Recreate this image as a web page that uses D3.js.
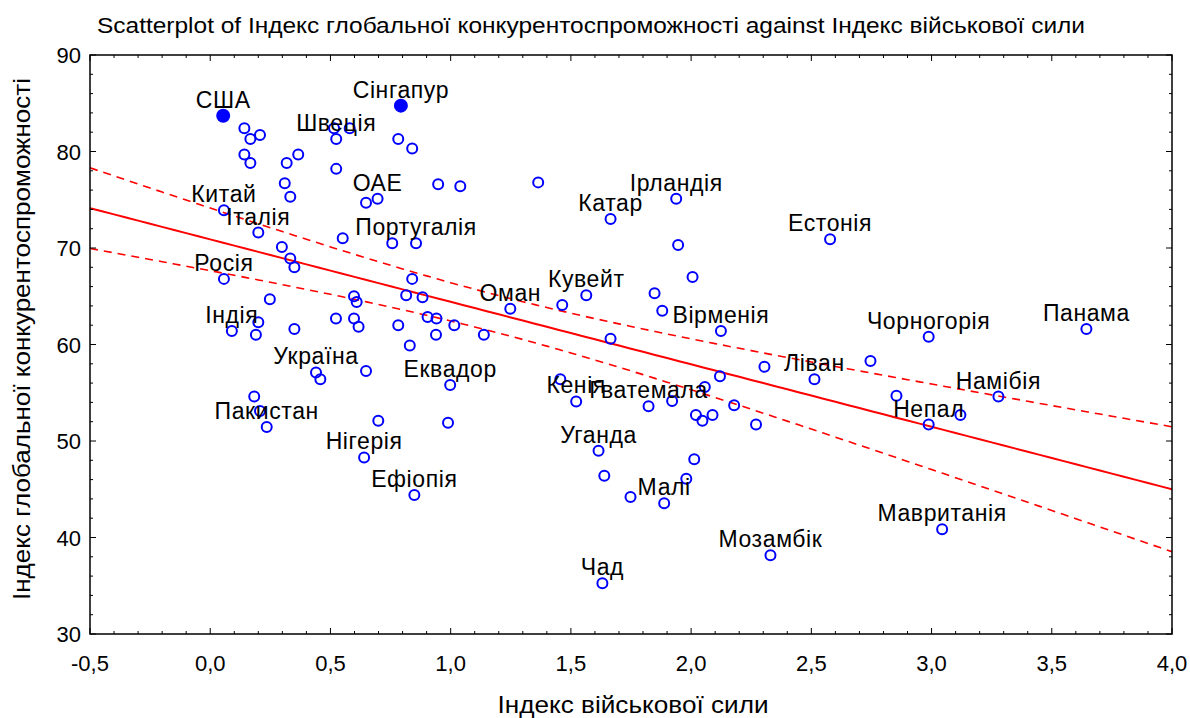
<!DOCTYPE html>
<html>
<head>
<meta charset="utf-8">
<script src="https://cdn.jsdelivr.net/npm/d3@7"></script>
<style>
  body { margin: 0; background: #fff; }
  text { font-family: "Liberation Sans", Arial, sans-serif; fill: #000; }
</style>
</head>
<body>
<svg id="chart" width="1190" height="718"></svg>
<script>
// Military strength index (x) vs global competitiveness index (y)
const xValues = [
  0.054, 0.793, 0.142, 0.167, 0.207, 0.142, 0.167, 0.318, 0.366, 0.310,
  0.333, 0.057, 0.200, 0.515, 0.580, 0.524, 0.524, 0.648, 0.696, 0.551,
  0.782, 0.840, 0.948, 1.040, 1.364, 1.665, 0.298, 0.333, 0.350, 0.057,
  0.248, 0.090, 0.200, 0.190, 0.350, 0.523, 0.598, 0.609, 0.598, 0.617,
  0.440, 0.458, 0.648, 0.183, 0.207, 0.235, 0.699, 0.989, 0.998, 0.640,
  0.849, 0.856, 0.757, 0.840, 0.815, 0.883, 0.782, 0.904, 0.941, 1.015,
  0.939, 0.830, 1.248, 1.464, 1.564, 1.138, 1.665, 1.456, 1.522, 1.823,
  1.921, 2.057, 2.120, 2.020, 2.047, 2.089, 2.179, 2.270, 2.513, 1.615,
  1.639, 2.013, 1.888, 1.980, 1.748, 2.330, 1.631, 1.938, 2.578, 1.946,
  2.006, 1.848, 1.880, 2.124, 2.305, 2.746, 2.988, 3.644, 2.854, 3.278,
  2.988, 3.120, 3.044
];
const yValues = [
  83.7, 84.75, 82.4, 81.3, 81.7, 79.7, 78.8, 78.8, 79.7, 76.7,
  75.3, 73.9, 71.6, 82.4, 82.4, 81.3, 78.2, 74.7, 75.1, 71.0,
  81.3, 80.3, 76.6, 76.4, 76.8, 73.0, 70.1, 68.9, 68.0, 66.8,
  64.7, 61.4, 62.3, 61.0, 61.6, 62.7, 65.0, 64.4, 62.7, 61.85,
  57.1, 56.4, 57.25, 54.6, 53.1, 51.45, 52.1, 51.9, 55.8, 48.3,
  44.4, 70.5, 70.5, 66.8, 65.1, 64.9, 62.0, 62.85, 62.7, 62.0,
  61.0, 59.9, 63.7, 64.1, 65.1, 61.0, 60.6, 56.4, 54.1, 53.6,
  54.15, 55.6, 56.7, 52.7, 52.1, 52.7, 53.7, 51.7, 56.4, 49.0,
  46.4, 48.1, 43.55, 46.1, 44.2, 38.15, 35.25, 75.1, 70.9, 70.3,
  67.0, 65.3, 63.5, 61.4, 57.7, 58.3, 60.8, 61.6, 54.7, 54.6,
  51.7, 52.7, 40.85
];
// country labels, by point index
const labelIndex = [0, 1, 15, 18, 11, 12, 51, 29, 31, 40, 45, 49, 50, 48, 62, 64, 25, 87,
  88, 93, 78, 96, 97, 99, 100, 68, 69, 79, 82, 85, 86, 102];
const labelText = ["США", "Сінгапур", "Швеція", "ОАЕ", "Китай", "Італія", "Португалія", "Росія",
  "Індія", "Україна", "Пакистан", "Нігерія", "Ефіопія", "Еквадор", "Оман", "Кувейт", "Катар",
  "Ірландія", "Естонія", "Вірменія", "Ліван", "Чорногорія", "Панама", "Намібія", "Непал",
  "Кенія", "Гватемала", "Уганда", "Малі", "Мозамбік", "Чад", "Мавританія"];
const filledIndex = [0, 1];

const xTicks = [-0.5, 0, 0.5, 1, 1.5, 2, 2.5, 3, 3.5, 4];
const yTicks = [30, 40, 50, 60, 70, 80, 90];

const titleText = "Scatterplot of Індекс глобальної конкурентоспроможності against Індекс військової сили";
const xTitle = "Індекс військової сили";
const yTitle = "Індекс глобальної конкурентоспроможності";

const svg = d3.select("#chart");
const plot = { left: 90, right: 1172, top: 55, bottom: 634 };

const x = d3.scaleLinear().domain([-0.5, 4]).range([plot.left, plot.right]);
const y = d3.scaleLinear().domain([30, 90]).range([plot.bottom, plot.top]);

const fmt = d => d3.format(".1f")(d).replace(".", ",").replace("\u2212", "-");

// Linear regression with 95% confidence band for the mean
const n = xValues.length;
const mx = d3.mean(xValues), my = d3.mean(yValues);
let sxx = 0, sxy = 0;
xValues.forEach((v, i) => { sxx += (v - mx) ** 2; sxy += (v - mx) * (yValues[i] - my); });
const slope = sxy / sxx;
const intercept = my - slope * mx;
let sse = 0;
xValues.forEach((v, i) => { sse += (yValues[i] - (intercept + slope * v)) ** 2; });
const s = Math.sqrt(sse / (n - 2));
const tCrit = 1.984;
const band = d3.range(-0.5, 4.0001, 0.05).map(v => {
  const fit = intercept + slope * v;
  const hw = tCrit * s * Math.sqrt(1 / n + (v - mx) ** 2 / sxx);
  return { x: v, fit, lo: fit - hw, hi: fit + hw };
});

const defs = svg.append("defs");
defs.append("clipPath").attr("id", "clip").append("rect")
  .attr("x", plot.left).attr("y", plot.top)
  .attr("width", plot.right - plot.left).attr("height", plot.bottom - plot.top);

const g = svg.append("g").attr("clip-path", "url(#clip)");

const line = key => d3.line().x(d => x(d.x)).y(d => y(d[key]));
g.append("path").datum(band).attr("d", line("fit"))
  .attr("fill", "none").attr("stroke", "#ff0000").attr("stroke-width", 2);
["lo", "hi"].forEach(k => {
  g.append("path").datum(band).attr("d", line(k))
    .attr("fill", "none").attr("stroke", "#ff0000").attr("stroke-width", 1.6)
    .attr("stroke-dasharray", "8,6");
});

// points
const pts = d3.range(n);
svg.append("g").selectAll("circle").data(pts).join("circle")
  .attr("cx", i => x(xValues[i]))
  .attr("cy", i => y(yValues[i]))
  .attr("r", i => filledIndex.includes(i) ? 6 : 5)
  .attr("fill", i => filledIndex.includes(i) ? "#0000ff" : "none")
  .attr("stroke", "#0000ff")
  .attr("stroke-width", 2);

// point labels
svg.append("g").selectAll("text").data(labelIndex).join("text")
  .attr("x", i => x(xValues[i]))
  .attr("y", i => y(yValues[i]) - 8)
  .attr("text-anchor", "middle")
  .style("font-size", "23px")
  .style("letter-spacing", "0.6px")
  .text((i, k) => labelText[k]);

// frame
svg.append("rect")
  .attr("x", plot.left).attr("y", plot.top)
  .attr("width", plot.right - plot.left).attr("height", plot.bottom - plot.top)
  .attr("fill", "none").attr("stroke", "#000").attr("stroke-width", 1.5);

// ticks (inward), major + minor
const ax = svg.append("g").attr("stroke", "#000").attr("stroke-width", 1);
const xMinor = d3.range(-0.5, 4.0001, 0.1);
xMinor.forEach(v => {
  const major = xTicks.some(t => Math.abs(t - v) < 1e-6);
  const len = major ? 6 : 3;
  ax.append("line").attr("x1", x(v)).attr("x2", x(v)).attr("y1", plot.bottom).attr("y2", plot.bottom - len);
  ax.append("line").attr("x1", x(v)).attr("x2", x(v)).attr("y1", plot.top).attr("y2", plot.top + len);
});
const yMinor = d3.range(30, 90.001, 2);
yMinor.forEach(v => {
  const major = yTicks.includes(v);
  const len = major ? 6 : 3;
  ax.append("line").attr("y1", y(v)).attr("y2", y(v)).attr("x1", plot.left).attr("x2", plot.left + len);
  ax.append("line").attr("y1", y(v)).attr("y2", y(v)).attr("x1", plot.right).attr("x2", plot.right - len);
});

// tick labels
svg.append("g").selectAll("text").data(xTicks).join("text")
  .attr("x", d => x(d)).attr("y", plot.bottom + 37)
  .attr("text-anchor", "middle").style("font-size", "22px")
  .text(fmt);
svg.append("g").selectAll("text").data(yTicks).join("text")
  .attr("x", plot.left - 9).attr("y", d => y(d) + 8)
  .attr("text-anchor", "end").style("font-size", "22px")
  .text(d => d);

// titles
svg.append("text").attr("x", 591).attr("y", 33)
  .attr("text-anchor", "middle").style("font-size", "22px")
  .attr("textLength", 988).attr("lengthAdjust", "spacingAndGlyphs").text(titleText);
svg.append("text").attr("x", 633).attr("y", 713)
  .attr("text-anchor", "middle").style("font-size", "23px")
  .attr("textLength", 271).attr("lengthAdjust", "spacingAndGlyphs").text(xTitle);
svg.append("text").attr("transform", "translate(30,339) rotate(-90)")
  .attr("text-anchor", "middle").style("font-size", "23px")
  .attr("textLength", 522).attr("lengthAdjust", "spacingAndGlyphs").text(yTitle);
</script>
</body>
</html>
